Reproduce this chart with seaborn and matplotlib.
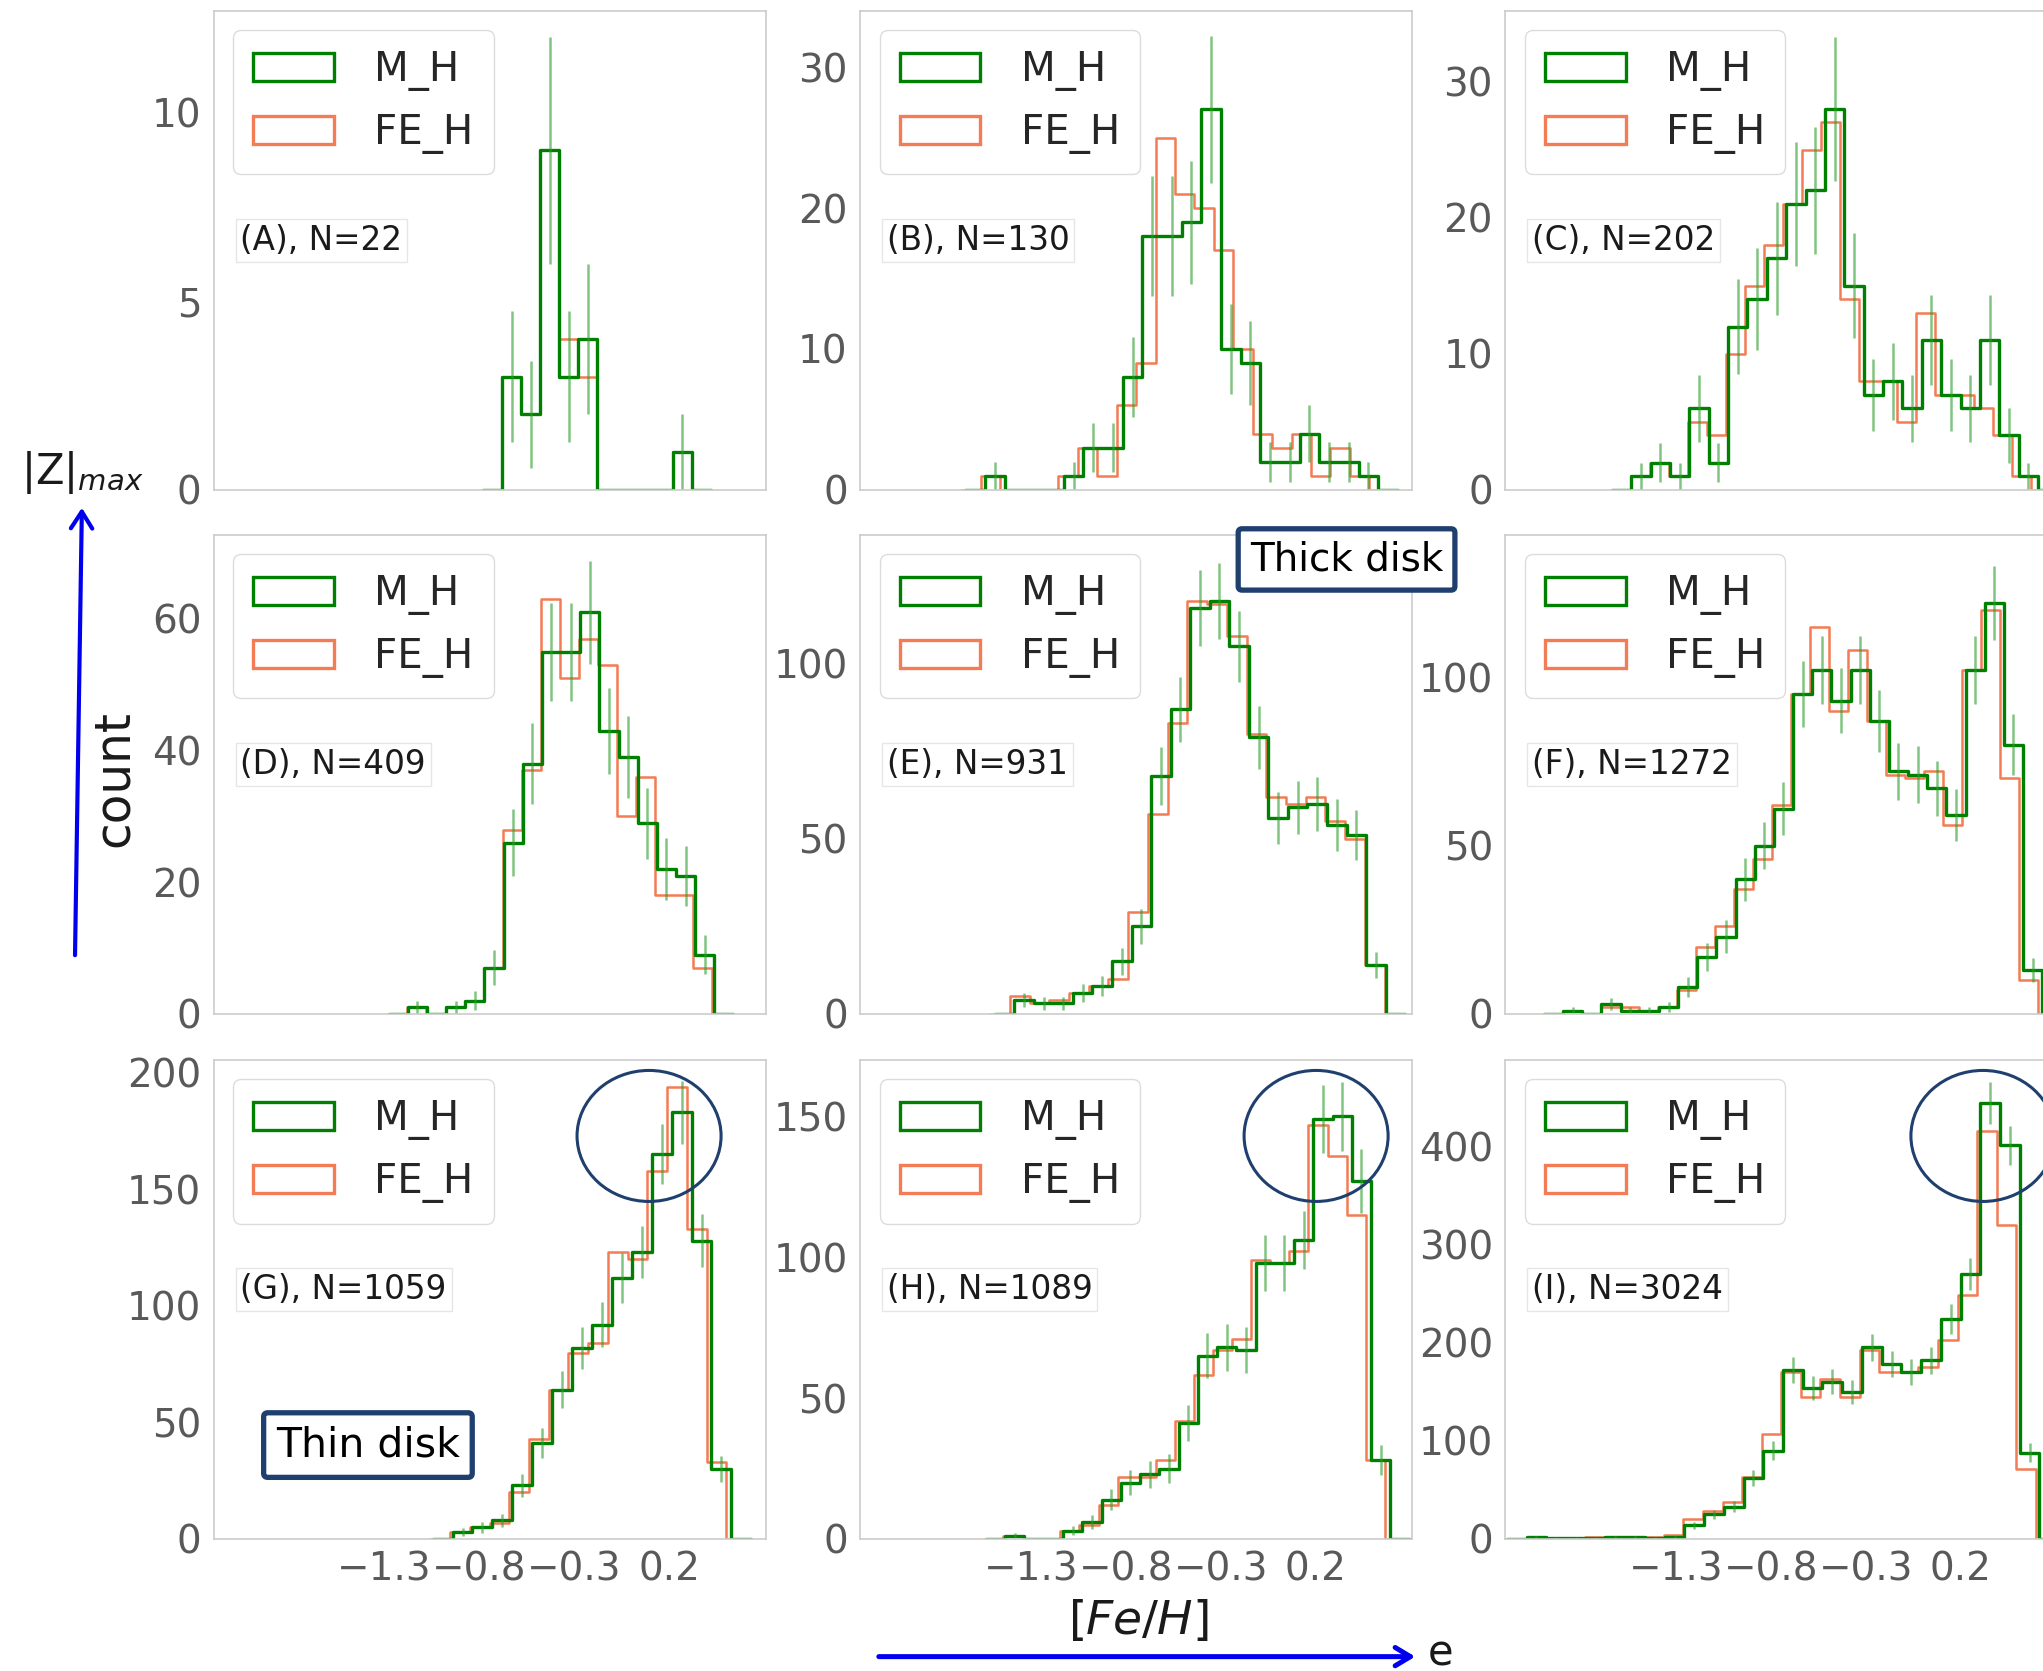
import matplotlib
matplotlib.use("Agg")
import matplotlib.pyplot as plt
import numpy as np
import pandas as pd
import seaborn as sns
from matplotlib.patches import Patch, Ellipse, FancyArrowPatch
from matplotlib.ticker import MultipleLocator

sns.set_theme(style="white", rc={"axes.edgecolor": "#cccccc", "axes.linewidth": 1.2,
                                 "xtick.major.size": 0, "ytick.major.size": 0,
                                 "xtick.major.pad": 8.5, "ytick.major.pad": 9})
plt.rcParams["font.family"] = ["DejaVu Sans"]
plt.rcParams["mathtext.fontset"] = "dejavusans"

PANEL_LABELS = ["A", "B", "C", "D", "E", "F", "G", "H", "I"]
N_STARS = [22, 130, 202, 409, 931, 1272, 1059, 1089, 3024]

# histogram bins: first edge and bin width, per panel ([M/H] and [Fe/H])
MH_START = [-0.68, -1.542, -1.537, -1.178, -1.388, -1.896, -0.942, -1.436, -2.089]
MH_WIDTH = [0.100, 0.1036, 0.1021, 0.101, 0.103, 0.101, 0.105, 0.1015, 0.104]
FE_START = [-0.68, -1.565, -1.540, -1.180, -1.412, -1.896, -0.955, -1.447, -2.089]
FE_WIDTH = [0.100, 0.1024, 0.1004, 0.1005, 0.104, 0.1001, 0.104, 0.1006, 0.1033]

MH_A = [3, 2, 9, 3, 4, 0, 0, 0, 0, 1]
FE_A = [3, 2, 9, 4, 3, 0, 0, 0, 0, 1]
MH_B = [1, 0, 0, 0, 1, 3, 3, 8, 18, 18, 19, 27, 10, 9, 2, 2, 4, 2, 2, 1]
FE_B = [1, 0, 0, 0, 1, 3, 1, 6, 9, 25, 21, 20, 17, 10, 4, 3, 4, 1, 3, 1]
MH_C = [1, 2, 1, 6, 2, 12, 14, 17, 21, 22, 28, 15, 7, 8, 6, 11, 7, 6, 11, 4, 1]
FE_C = [1, 2, 1, 5, 4, 10, 15, 18, 21, 25, 27, 14, 8, 8, 5, 13, 7, 7, 6, 4, 1]
MH_D = [1, 0, 1, 2, 7, 26, 38, 55, 55, 61, 43, 39, 29, 22, 21, 9]
FE_D = [1, 0, 1, 2, 7, 28, 37, 63, 51, 57, 53, 30, 36, 18, 18, 7]
MH_E = [4, 3, 3, 6, 8, 15, 25, 68, 87, 116, 118, 105, 79, 56, 59, 60, 54, 51, 14]
FE_E = [5, 3, 4, 6, 8, 10, 29, 57, 83, 118, 117, 108, 80, 62, 60, 62, 55, 50, 14]
MH_F = [1, 0, 3, 1, 1, 2, 8, 17, 23, 40, 50, 61, 95, 102, 93, 102, 87, 72, 71, 67,
        59, 102, 122, 80, 13]
FE_F = [1, 0, 2, 2, 1, 2, 7, 20, 26, 37, 46, 62, 95, 115, 90, 108, 87, 71, 70, 72,
        56, 102, 120, 70, 10]
MH_G = [3, 5, 8, 23, 41, 64, 82, 92, 112, 123, 165, 183, 128, 30]
FE_G = [3, 5, 7, 20, 43, 64, 80, 84, 123, 120, 158, 194, 133, 33]
MH_H = [1, 0, 0, 3, 6, 14, 20, 23, 25, 41, 65, 68, 67, 98, 98, 106, 149, 150, 127, 28]
FE_H = [1, 0, 0, 3, 5, 12, 22, 22, 28, 42, 58, 67, 71, 99, 98, 102, 147, 136, 115, 28]
MH_I = [2, 1, 1, 1, 2, 2, 1, 2, 14, 25, 33, 62, 90, 172, 154, 160, 150, 195, 178, 170,
        182, 224, 270, 444, 401, 88]
FE_I = [2, 1, 1, 2, 2, 1, 2, 4, 20, 28, 38, 63, 107, 170, 145, 163, 145, 192, 170, 170,
        175, 203, 248, 415, 320, 71]

MH_COUNTS = [MH_A, MH_B, MH_C, MH_D, MH_E, MH_F, MH_G, MH_H, MH_I]
FE_COUNTS = [FE_A, FE_B, FE_C, FE_D, FE_E, FE_F, FE_G, FE_H, FE_I]

Y_MAX = [12.7, 34.0, 35.2, 72.8, 136.9, 142.3, 205.6, 170.0, 488.0]
Y_STEP = [5, 10, 10, 20, 50, 50, 50, 50, 100]
X_TICKS = [-1.3, -0.8, -0.3, 0.2]
X_LIM = (-2.2, 0.71)

MH_COLOR = "green"
FE_COLOR = "#f47c54"
ERR_COLOR = "#2e9e2e"
NAVY = "#1f3f6e"
TICK_SIZE = 28


def bin_table(start, width, counts):
    n = len(counts)
    edges = [float(e) for e in start + width * np.arange(-1, n + 2)]
    centers = start + width * (np.arange(n) + 0.5)
    return pd.DataFrame({"center": centers, "count": counts}), edges


fig = plt.figure(figsize=(20.43, 16.71), dpi=100)

col_left = [0.1047, 0.4211, 0.7369]
row_bottom = [0.7068, 0.3932, 0.0790]
ax_w, ax_h = 0.2702, 0.2868

for i, label in enumerate(PANEL_LABELS):
    row, col = divmod(i, 3)
    ax = fig.add_axes([col_left[col], row_bottom[row], ax_w, ax_h])

    mh_df, mh_edges = bin_table(MH_START[i], MH_WIDTH[i], MH_COUNTS[i])
    fe_df, fe_edges = bin_table(FE_START[i], FE_WIDTH[i], FE_COUNTS[i])

    sns.histplot(data=fe_df, x="center", weights="count", bins=fe_edges,
                 element="step", fill=False, color=FE_COLOR, linewidth=1.8, ax=ax)
    sns.histplot(data=mh_df, x="center", weights="count", bins=mh_edges,
                 element="step", fill=False, color=MH_COLOR, linewidth=2.4, ax=ax)
    ax.errorbar(mh_df["center"], mh_df["count"], yerr=np.sqrt(mh_df["count"]),
                fmt="none", ecolor=ERR_COLOR, alpha=0.6, elinewidth=1.8)

    ax.set_xlim(*X_LIM)
    ax.set_ylim(0, Y_MAX[i])
    ax.yaxis.set_major_locator(MultipleLocator(Y_STEP[i]))
    ax.set_xticks(X_TICKS)
    if row == 2:
        ax.set_xticklabels([f"{t:.1f}".replace("-", "\u2212") for t in X_TICKS])
    else:
        ax.set_xticklabels([])
    ax.tick_params(axis="both", labelsize=TICK_SIZE, labelcolor="0.35")
    ax.set_xlabel("")
    ax.set_ylabel("")
    for sp in ax.spines.values():
        sp.set_visible(True)

    handles = [Patch(facecolor="none", edgecolor=MH_COLOR, linewidth=2.4, label="M_H"),
               Patch(facecolor="none", edgecolor=FE_COLOR, linewidth=2.4, label="FE_H")]
    ax.legend(handles=handles, loc="upper left", fontsize=29, frameon=True,
              edgecolor="0.85", framealpha=0.9, borderaxespad=0.48,
              labelspacing=0.55, borderpad=0.5, handletextpad=1.0)

    ax.text(0.048, 0.52, f"({label}), N={N_STARS[i]}", transform=ax.transAxes,
            fontsize=23.5, color="0.1", va="center", ha="left",
            bbox=dict(boxstyle="square,pad=0.15", facecolor="white",
                      edgecolor="0.9", linewidth=1.0))

# axis annotations drawn on the figure
fig.text(0.0558, 0.534, "count", rotation=90, fontsize=35, ha="center", va="center", color="0.1")
fig.text(0.557, 0.0299, "$[Fe/H]$", fontsize=34, ha="center", va="center", color="0.1")
fig.text(0.0401, 0.7175, r"$|\mathrm{Z}|_{max}$", fontsize=30, ha="center", va="center", color="0.1")
fig.text(0.7053, 0.003, "e", fontsize=30, ha="center", va="baseline", color="0.1")

fig.add_artist(FancyArrowPatch((0.0367, 0.4267), (0.0401, 0.6978), transform=fig.transFigure,
                               arrowstyle="->,head_length=0.55,head_width=0.35",
                               mutation_scale=22, color="#0000ee", linewidth=3))
fig.add_artist(FancyArrowPatch((0.4288, 0.0086), (0.6941, 0.0086), transform=fig.transFigure,
                               arrowstyle="->,head_length=0.5,head_width=0.3",
                               mutation_scale=22, color="#0000ee", linewidth=3.6))

box_style = dict(boxstyle="round,pad=0.3,rounding_size=0.1", facecolor="white",
                 edgecolor=NAVY, linewidth=3.8)
fig.text(0.6591, 0.6652, "Thick disk", fontsize=28, ha="center", va="center",
         color="black", bbox=box_style)
fig.text(0.1801, 0.1352, "Thin disk", fontsize=29.5, ha="center", va="center",
         color="black", bbox=box_style)

for cx in [0.3177, 0.6442, 0.9706]:
    fig.add_artist(Ellipse((cx, 0.3202), 0.0705, 0.0784, transform=fig.transFigure,
                           fill=False, edgecolor=NAVY, linewidth=2.2))

fig.savefig("out.png", dpi=100)
